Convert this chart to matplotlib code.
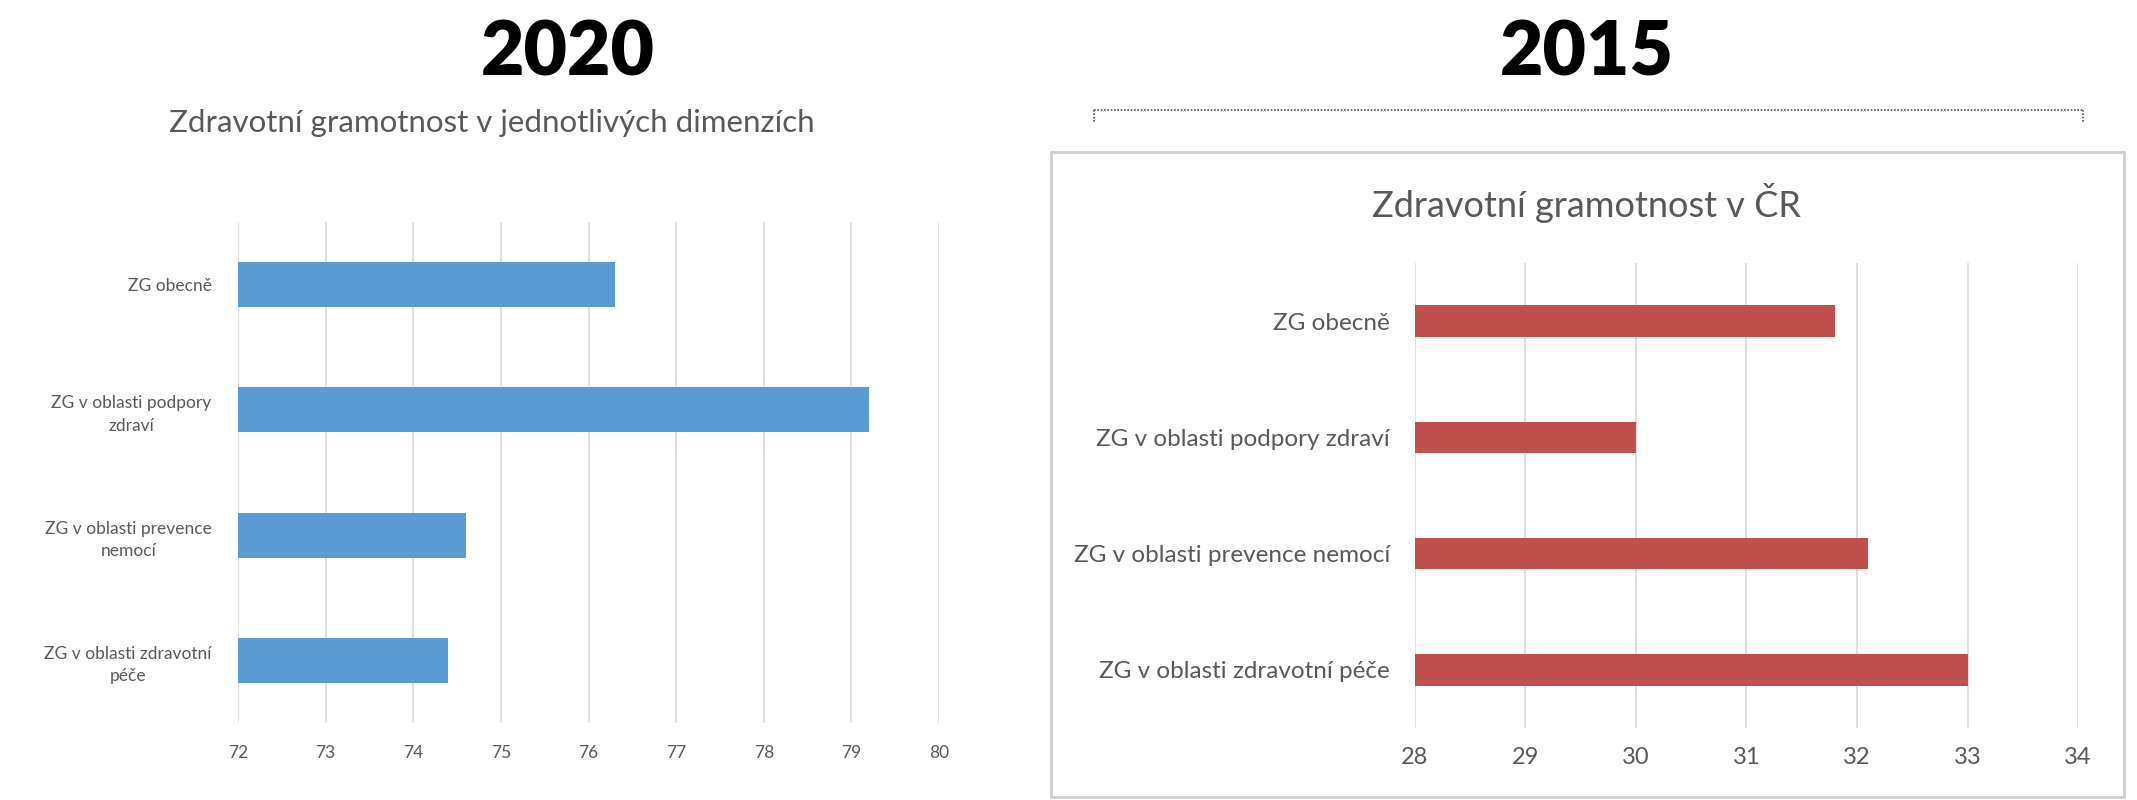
import matplotlib.pyplot as plt
import matplotlib.patches as patches
from matplotlib.lines import Line2D

plt.rcParams['font.family'] = ['Lato', 'DejaVu Sans']

# 2020 - health literacy by dimension
cats_2020 = ['ZG obecně', 'ZG v oblasti podpory\nzdraví', 'ZG v oblasti prevence\nnemocí',
             'ZG v oblasti zdravotní\npéče']
vals_2020 = [76.3, 79.2, 74.6, 74.4]
ticks_2020 = [72, 73, 74, 75, 76, 77, 78, 79, 80]

# 2015 - health literacy in CR
cats_2015 = ['ZG obecně', 'ZG v oblasti podpory zdraví', 'ZG v oblasti prevence nemocí',
             'ZG v oblasti zdravotní péče']
vals_2015 = [31.8, 30.0, 32.1, 33.0]
ticks_2015 = [28, 29, 30, 31, 32, 33, 34]

blue = '#5B9BD5'
red = '#C0504D'
gray_txt = '#595959'
grid_col = '#d9d9d9'

fig = plt.figure(figsize=(21.37, 8), dpi=100)


def style_axes(ax, ticks, xfs, yfs, xpad, ypad):
    ax.set_xlim(ticks[0], ticks[-1])
    ax.set_xticks(ticks)
    ax.set_ylim(3.5, -0.5)
    for s in ax.spines.values():
        s.set_visible(False)
    ax.grid(axis='x', color=grid_col, linewidth=1.2)
    ax.set_axisbelow(True)
    ax.tick_params(length=0, colors=gray_txt)
    ax.tick_params(axis='x', labelsize=xfs, pad=xpad)
    ax.tick_params(axis='y', labelsize=yfs, pad=ypad)


# left chart
ax1 = fig.add_axes([0.1114, 0.09625, 0.328, 0.62625])
ax1.barh(range(len(cats_2020)), vals_2020, height=0.36, left=0, color=blue)
style_axes(ax1, ticks_2020, 12.5, 12.5, 16, 19)
ax1.set_yticks(range(len(cats_2020)))
ax1.set_yticklabels(cats_2020)
for lab in ax1.get_yticklabels():
    lab.set_multialignment('center')
    lab.set_linespacing(1.5)

fig.text(0.2658, 0.906, '2020', ha='center', va='baseline', fontsize=54, fontweight='heavy', color='black')
fig.text(0.2302, 0.846, 'Zdravotní gramotnost v jednotlivých dimenzích', ha='center', va='center',
         fontsize=22.5, color=gray_txt)

# right chart
ax2 = fig.add_axes([0.6621, 0.09, 0.3103, 0.58125])
ax2.barh(range(len(cats_2015)), vals_2015, height=0.27, color=red)
style_axes(ax2, ticks_2015, 17, 17.5, 14, 18)
ax2.set_yticks(range(len(cats_2015)))
ax2.set_yticklabels(cats_2015)

fig.text(0.7426, 0.906, '2015', ha='center', va='baseline', fontsize=54, fontweight='heavy', color='black')
fig.text(0.7426, 0.746, 'Zdravotní gramotnost v ČR', ha='center', va='center',
         fontsize=26, color=gray_txt)

# frame around the 2015 chart
fig.patches.append(patches.Rectangle((0.4918, 0.004), 0.5021, 0.806, transform=fig.transFigure,
                                     fill=False, edgecolor='#cfcfcf', linewidth=2))

# dotted bracket above the frame
fig.lines.append(Line2D([0.5119, 0.9747], [0.8625, 0.8625], transform=fig.transFigure,
                        color='#555555', linewidth=1.2, linestyle=(0, (1, 1))))
for xb in [0.5119, 0.9747]:
    fig.lines.append(Line2D([xb, xb], [0.8625, 0.846], transform=fig.transFigure,
                            color='#555555', linewidth=1.2, linestyle=(0, (1, 1))))

fig.savefig('out.png', dpi=100)
